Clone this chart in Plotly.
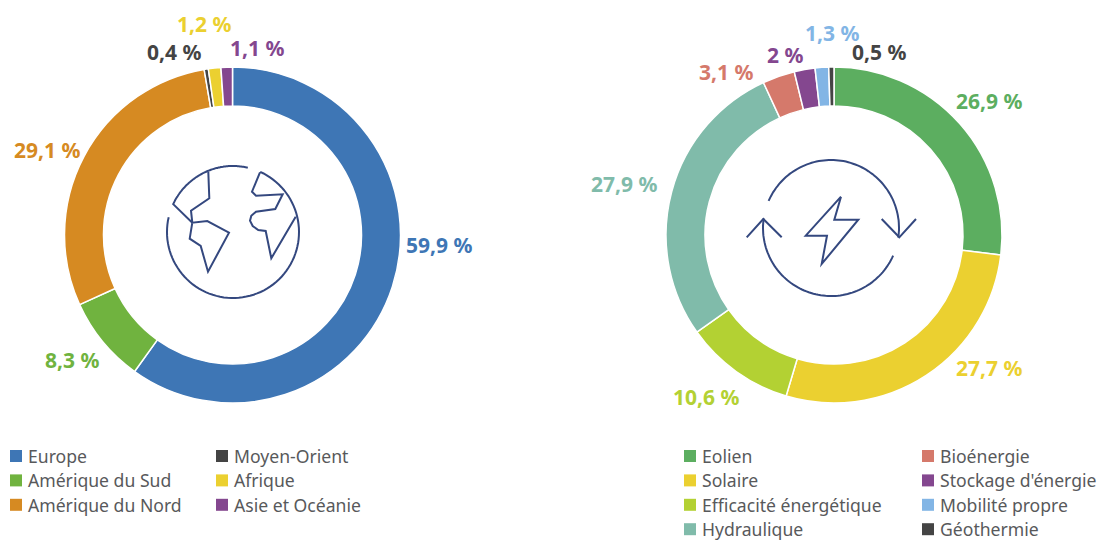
import numpy as np
import plotly.graph_objects as go

W, H = 1098, 541
FONT = "Noto Sans"

# --- data ---
regions = ["Europe", "Amérique du Sud", "Amérique du Nord", "Moyen-Orient", "Afrique", "Asie et Océanie"]
region_values = [59.9, 8.3, 29.1, 0.4, 1.2, 1.1]
region_labels = ["59,9 %", "8,3 %", "29,1 %", "0,4 %", "1,2 %", "1,1 %"]
region_colors = ["#3e76b5", "#70b33f", "#d68a22", "#444444", "#ebd030", "#84478f"]

sectors = ["Eolien", "Solaire", "Efficacité énergétique", "Hydraulique", "Bioénergie",
           "Stockage d'énergie", "Mobilité propre", "Géothermie"]
sector_values = [26.9, 27.7, 10.6, 27.9, 3.1, 2.0, 1.3, 0.5]
sector_labels = ["26,9 %", "27,7 %", "10,6 %", "27,9 %", "3,1 %", "2 %", "1,3 %", "0,5 %"]
sector_colors = ["#5cae60", "#ebd030", "#b3d133", "#80bbaa", "#d5796b", "#84478f", "#82b5e5", "#444444"]

# --- layout positions (pixels) ---
region_label_pos = [(439, 245), (72, 360), (47, 150), (174, 52), (204, 24), (257, 48)]
sector_label_pos = [(989, 101), (989, 368), (706, 397), (624, 184), (726, 72), (785, 55), (832, 33), (879, 52)]
R = 168
CY = 235
LEFT_CX, RIGHT_CX = 232.5, 834


def domain(cx):
    return dict(x=[(cx - R) / W, (cx + R) / W], y=[1 - (CY + R) / H, 1 - (CY - R) / H])


fig = go.Figure()
for labels, values, colors, cx in [(regions, region_values, region_colors, LEFT_CX),
                                   (sectors, sector_values, sector_colors, RIGHT_CX)]:
    fig.add_trace(go.Pie(labels=labels, values=values, hole=0.768, sort=False, direction="clockwise",
                         rotation=0, textinfo="none", hoverinfo="label+value", showlegend=False,
                         marker=dict(colors=colors, line=dict(color="white", width=1.5)),
                         domain=domain(cx)))

annotations = []
for texts, pos, colors in [(region_labels, region_label_pos, region_colors),
                           (sector_labels, sector_label_pos, sector_colors)]:
    for t, (x, y), c in zip(texts, pos, colors):
        annotations.append(dict(x=x, y=y, text=t, showarrow=False, xanchor="center", yanchor="middle",
                                font=dict(family=FONT, size=21, color=c, weight="bold")))

# --- legends ---
LEG = [(regions[:3], region_colors[:3], 16, 27, 456),
       (regions[3:], region_colors[3:], 222, 233, 456),
       (sectors[:4], sector_colors[:4], 690, 701, 456),
       (sectors[4:], sector_colors[4:], 928, 939, 456)]
STEP = 24.4
for names, cols, sx, tx, y0 in LEG:
    ys = [y0 + i * STEP for i in range(len(names))]
    fig.add_trace(go.Scatter(x=[sx] * len(names), y=ys, mode="markers", showlegend=False, hoverinfo="skip",
                             marker=dict(symbol="square", size=12, color=cols, line=dict(width=0))))
    for n, y in zip(names, ys):
        annotations.append(dict(x=tx, y=y, text=n, showarrow=False, xanchor="left", yanchor="middle",
                                borderpad=0, font=dict(family=FONT, size=17.6, color="#58595b")))


# --- icons ---
ICON = "#34487f"


def line_path(pts):
    return "M" + " L".join(f"{x:.1f},{y:.1f}" for x, y in pts)


def arc(cx, cy, r, a0, a1, n=80):
    t = np.radians(np.linspace(a0, a1, n))
    return list(zip(cx + r * np.cos(t), cy + r * np.sin(t)))


def z(pts, ox, oy):
    return [(ox + x / 3, oy + y / 3) for x, y in pts]


paths = []
# globe
gx, gy, gr = 233, 232, 66
paths.append(line_path(arc(gx, gy, gr, -77, -155) + z([(187, 218)], 130, 150)))
paths.append(line_path(arc(gx, gy, gr, -167, -425.7)))
paths.append(line_path(z([(235, 65), (238, 145), (183, 182), (187, 218), (232, 213), (297, 248),
                          (234, 365), (212, 288), (179, 266), (187, 218)], 130, 150)))
paths.append(line_path(z([(390, 67), (366, 125), (378, 137), (458, 133), (436, 177), (378, 185),
                          (364, 197), (360, 212), (368, 228), (385, 240), (407, 243), (424, 325),
                          (497, 200)], 130, 150)))
# energy
ex, ey, er = 831, 228, 68
paths.append(line_path(arc(ex, ey, er, -156.5, 8)))
paths.append(line_path(arc(ex, ey, er, 24, 188)))
paths.append(line_path(z([(455, 207), (508, 262), (558, 207)], 730, 150)))
paths.append(line_path(z([(50, 262), (100, 207), (155, 262)], 730, 150)))
paths.append(line_path(z([(333, 140), (227, 257), (291, 257), (275, 342), (385, 209), (313, 209), (333, 140)],
                         730, 150)))

shapes = [dict(type="path", path=p, xref="x", yref="y", line=dict(color=ICON, width=2)) for p in paths]

fig.update_layout(
    width=W, height=H, margin=dict(l=0, r=0, t=0, b=0), paper_bgcolor="white", plot_bgcolor="white",
    showlegend=False, annotations=annotations, shapes=shapes,
    xaxis=dict(range=[0, W], visible=False, fixedrange=True),
    yaxis=dict(range=[H, 0], visible=False, fixedrange=True),
)
fig.write_html("out.html", config=dict(displayModeBar=False),
               post_script="document.body.style.margin='0';document.documentElement.style.overflow='hidden';")
